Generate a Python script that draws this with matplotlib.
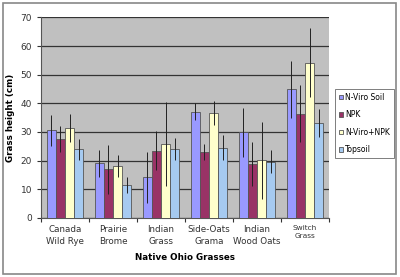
import matplotlib.pyplot as plt
import matplotlib.patches as mpatches
import numpy as np

# data
grasses = ["Canada\nWild Rye", "Prairie\nBrome", "Indian\nGrass",
           "Side-Oats\nGrama", "Indian\nWood Oats", "Switch\nGrass"]
series = ["N-Viro Soil", "NPK", "N-Viro+NPK", "Topsoil"]

nviro = [30.5, 19.0, 14.1, 37.0, 29.9, 44.9]
npk = [27.4, 16.9, 23.4, 22.9, 18.7, 36.3]
nviro_npk = [31.3, 18.1, 25.7, 36.5, 20.1, 54.2]
topsoil = [23.9, 11.4, 23.9, 24.5, 19.6, 33.2]

nviro_err = [5.5, 4.7, 9.0, 3.0, 8.6, 9.9]
npk_err = [4.5, 8.5, 6.8, 2.8, 7.6, 10.0]
nviro_npk_err = [5.0, 3.9, 14.7, 4.2, 13.5, 12.0]
topsoil_err = [3.7, 2.8, 3.8, 4.4, 3.9, 4.9]

values = [nviro, npk, nviro_npk, topsoil]
errors = [nviro_err, npk_err, nviro_npk_err, topsoil_err]
colors = ['#9999FF', '#993366', '#FFFFCC', '#A6CAF0']

fig = plt.figure(figsize=(4, 2.77), dpi=100, facecolor='white')
ax = fig.add_axes([0.1025, 0.214, 0.72, 0.723])
ax.set_facecolor('#C0C0C0')

x = np.arange(len(grasses))
width = 0.19
for i, (vals, errs, col) in enumerate(zip(values, errors, colors)):
    ax.bar(x + (i - 1.5) * width, vals, width, color=col, edgecolor='#555555',
           linewidth=0.6, label=series[i], zorder=3,
           yerr=errs, error_kw=dict(ecolor='#222222', elinewidth=0.7, capsize=0, zorder=4))

ax.set_xlim(-0.5, 5.5)
ax.set_ylim(0, 70)
ax.set_yticks(np.arange(0, 71, 10))
ax.yaxis.grid(True, color='#333333', linewidth=0.9, zorder=1)

# tick marks on group boundaries, labels at group centres
ax.set_xticks(np.arange(-0.5, 6, 1))
ax.set_xticklabels([])
ax.set_xticks(x, minor=True)
ax.set_xticklabels(grasses, minor=True, fontsize=6.3, color='#333333', linespacing=1.5)
ax.tick_params(axis='x', which='minor', length=0, pad=5)
ax.tick_params(axis='x', which='major', length=3, color='#333333')
ax.tick_params(axis='y', labelsize=6.5, labelcolor='#333333', length=3, color='#333333')
lab = ax.get_xticklabels(minor=True)[-1]
lab.set_fontsize(5.3)
for s in ['top', 'right']:
    ax.spines[s].set_visible(False)
for s in ['left', 'bottom']:
    ax.spines[s].set_color('#555555')
    ax.spines[s].set_linewidth(0.8)

ax.set_xlabel("Native Ohio Grasses", fontsize=6.3, fontweight='bold', labelpad=5)
ax.set_ylabel("Grass height (cm)", fontsize=6.3, fontweight='bold', labelpad=4)

leg = ax.legend(loc='upper left', bbox_to_anchor=(1.02, 0.645), fontsize=5.5,
                frameon=True, fancybox=False, edgecolor='#444444',
                handlelength=0.55, handleheight=0.55, handletextpad=0.25,
                labelspacing=1.1, borderpad=0.55, borderaxespad=0)
leg.get_frame().set_linewidth(0.6)

# grey border round the whole chart
fig.patches.append(mpatches.Rectangle((0.008, 0.012), 0.982, 0.978, transform=fig.transFigure,
                                      fill=False, edgecolor='#888888', linewidth=1.2))

plt.savefig("out.png", dpi=100, facecolor=fig.get_facecolor())
